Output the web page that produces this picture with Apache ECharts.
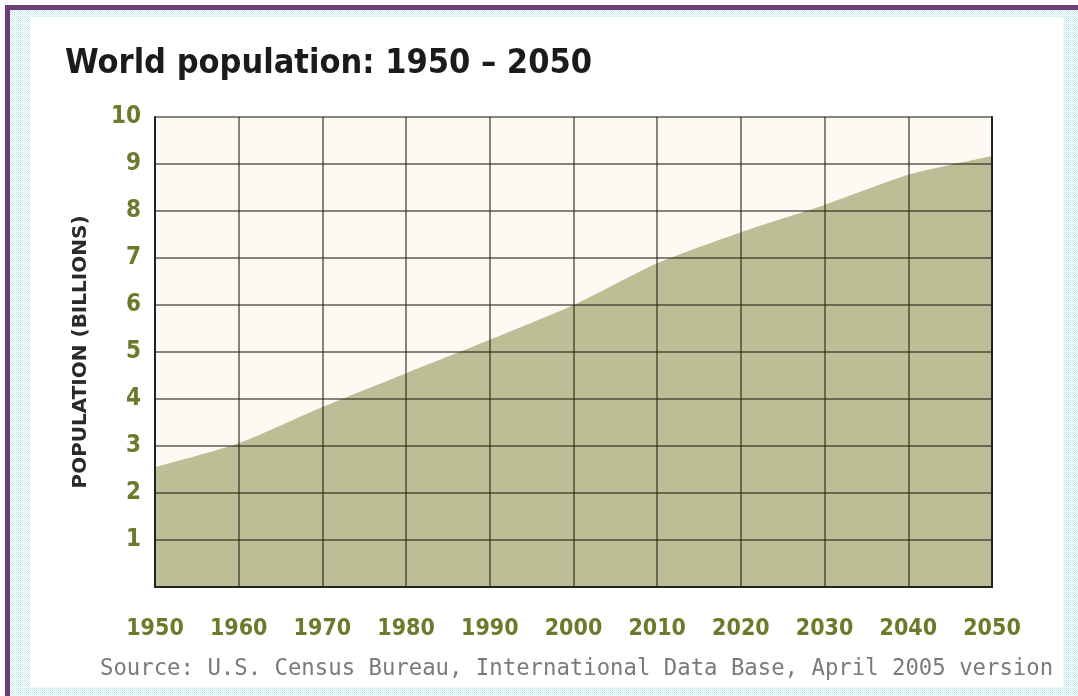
<!DOCTYPE html>
<html><head><meta charset="utf-8">
<script src="https://cdn.jsdelivr.net/npm/echarts@6/dist/echarts.min.js"></script>
<style>html,body{margin:0;padding:0;background:#fff;}#c{width:1078px;height:696px;}</style>
</head><body><div id="c"></div>
<script>
// Data
const years = ['1950','1960','1970','1980','1990','2000','2010','2020','2030','2040','2050'];
const population = [2.55, 3.06, 3.83, 4.55, 5.26, 6.00, 6.89, 7.55, 8.13, 8.77, 9.17];
const titleText = 'World population: 1950 \u2013 2050';
const yAxisName = 'POPULATION (BILLIONS)';
const sourceText = 'Source: U.S. Census Bureau, International Data Base, April 2005 version';

// dotted pattern for the frame
const pc = document.createElement('canvas');
pc.width = 4; pc.height = 4;
const pctx = pc.getContext('2d');
pctx.fillStyle = '#ffffff'; pctx.fillRect(0,0,4,4);
pctx.fillStyle = '#B3E6EB';
pctx.fillRect(0,0,1,1); pctx.fillRect(2,2,1,1); pctx.fillRect(2,0,1,1); pctx.fillRect(0,2,1,1);
pctx.fillStyle = '#DDF4F6';
pctx.fillRect(1,1,1,1); pctx.fillRect(3,3,1,1); pctx.fillRect(3,1,1,1); pctx.fillRect(1,3,1,1);

const labelColor = '#6B7B2B';
const narrow = '"DejaVu Sans Condensed", sans-serif';
const chart = echarts.init(document.getElementById('c'), null, {renderer:'canvas'});
chart.setOption({
  animation: false,
  backgroundColor: '#ffffff',
  graphic: [
    {type:'rect', z:-100, shape:{x:5,y:5,width:1073,height:691}, style:{fill:'#6E3E7A'}},
    {type:'rect', z:-99, shape:{x:10,y:10,width:1068,height:686}, style:{fill:{image:pc, repeat:'repeat'}}},
    {type:'rect', z:-98, shape:{x:30,y:17,width:1033,height:670}, style:{fill:'#ffffff'}},
    {type:'text', z:10, x:65, y:64, style:{text:titleText, fill:'#1b1b1b', font:'bold 34px ' + narrow, verticalAlign:'middle', align:'left'}},
    {type:'text', z:10, x:100, y:669, style:{text:sourceText, fill:'#7a7a7a', font:'22.3px "DejaVu Sans Mono"', verticalAlign:'middle', align:'left'}}
  ],
  grid: {left:155, right:86, top:117, bottom:109, show:true, backgroundColor:'#FCFAF3', borderWidth:0},
  xAxis: [{
    type:'category', data:years, boundaryGap:false, z:5,
    axisLine:{show:true, lineStyle:{color:'#222', width:2}},
    axisTick:{show:false},
    axisLabel:{color:labelColor, fontFamily:narrow, fontWeight:'bold', fontSize:23, margin:31, interval:0},
    splitLine:{show:true, lineStyle:{color:'rgba(35,35,25,0.72)', width:1.5}}
  },{
    type:'category', data:years, boundaryGap:false, position:'top', z:5,
    axisLine:{show:true, lineStyle:{color:'#222', width:2}},
    axisTick:{show:false}, axisLabel:{show:false}, splitLine:{show:false}
  }],
  yAxis: [{
    type:'value', min:0, max:10, interval:1, z:5,
    name: yAxisName, nameLocation:'middle', nameGap:64, nameRotate:90,
    nameTextStyle:{color:'#2a2a2a', fontFamily:'DejaVu Sans', fontWeight:'bold', fontSize:20},
    axisLine:{show:true, lineStyle:{color:'#222', width:2}},
    axisTick:{show:false},
    axisLabel:{color:labelColor, fontFamily:narrow, fontWeight:'bold', fontSize:24, margin:14,
      formatter: v => v === 0 ? '' : String(v)},
    splitLine:{show:true, lineStyle:{color:'rgba(35,35,25,0.72)', width:1.5}}
  },{
    type:'value', min:0, max:10, interval:1, position:'right', z:5,
    axisLine:{show:true, lineStyle:{color:'#222', width:2}},
    axisTick:{show:false}, axisLabel:{show:false}, splitLine:{show:false}
  }],
  series: [{
    type:'line', data:population, xAxisIndex:0, yAxisIndex:0, z:2,
    symbol:'none', smooth:0.2,
    lineStyle:{width:0},
    areaStyle:{color:'#BDBE96', opacity:1}
  }]
});
</script></body></html>
